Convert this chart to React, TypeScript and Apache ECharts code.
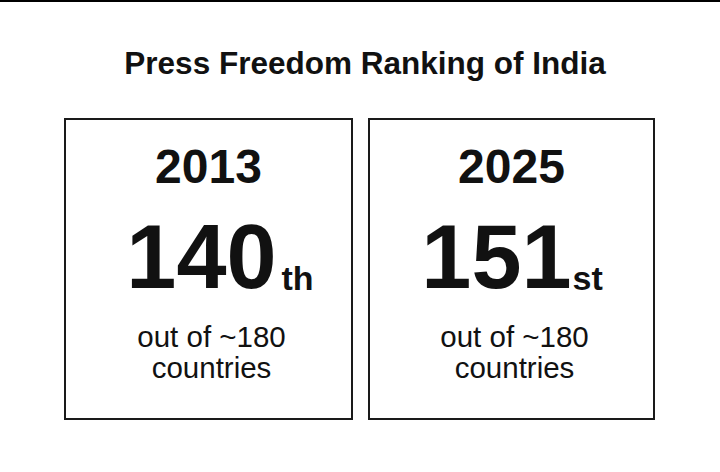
import React, { useEffect, useRef } from "react";
import * as echarts from "echarts";

// values
const years = ["2013", "2025"];
const ranks = [140, 151];
const suffixes = ["th", "st"];
const totalLabel = ["out of ~180", "countries"];
const titleText = "Press Freedom Ranking of India";

const FONT = "'Liberation Sans', Arial, Helvetica, sans-serif";
const INK = "#111111";

// box layout (px); rankDx / suffixDx are offsets from the box centre
const boxes = [
  { x: 65, w: 287, rankDx: 68, suffixDx: 73 },
  { x: 369, w: 285, rankDx: 60, suffixDx: 61 },
];
const BOX_TOP = 119;
const BOX_H = 300;

const App = () => {
  const chartRef = useRef<HTMLDivElement>(null);

  useEffect(() => {
    if (!chartRef.current) return;
    const chart = echarts.init(chartRef.current, null, { renderer: "svg" });

    const elements: any[] = [
      {
        type: "rect",
        shape: { x: 0, y: 0, width: 720, height: 2 },
        style: { fill: "#000" },
      },
      {
        type: "text",
        x: 365,
        y: 63,
        style: {
          text: titleText,
          font: `bold 31.5px ${FONT}`,
          fill: INK,
          align: "center",
          verticalAlign: "middle",
        },
      },
    ];

    years.forEach((year, i) => {
      const b = boxes[i];
      const cx = b.x + b.w / 2;
      elements.push(
        {
          type: "rect",
          shape: { x: b.x, y: BOX_TOP, width: b.w, height: BOX_H },
          style: { fill: "none", stroke: "#1a1a1a", lineWidth: 2 },
        },
        {
          type: "text",
          x: cx,
          y: 166.5,
          style: {
            text: year,
            font: `bold 48px ${FONT}`,
            fill: INK,
            align: "center",
            verticalAlign: "middle",
          },
        },
        {
          type: "text",
          x: cx + b.rankDx,
          y: 257,
          style: {
            text: String(ranks[i]),
            font: `bold 90px ${FONT}`,
            fill: INK,
            align: "right",
            verticalAlign: "middle",
          },
        },
        {
          type: "text",
          x: cx + b.suffixDx,
          y: 277.5,
          style: {
            text: suffixes[i],
            font: `bold 34px ${FONT}`,
            fill: INK,
            align: "left",
            verticalAlign: "middle",
          },
        },
        {
          type: "text",
          x: cx + 3,
          y: 352,
          style: {
            text: totalLabel.join("\n"),
            font: `29.5px ${FONT}`,
            lineHeight: 31,
            fill: INK,
            align: "center",
            verticalAlign: "middle",
          },
        }
      );
    });

    chart.setOption({
      animation: false,
      backgroundColor: "#ffffff",
      graphic: { elements },
    });

    return () => {
      chart.dispose();
    };
  }, []);

  return (
    <div
      ref={chartRef}
      style={{ position: "fixed", left: 0, top: 0, width: "720px", height: "472px" }}
    />
  );
};

export default App;
